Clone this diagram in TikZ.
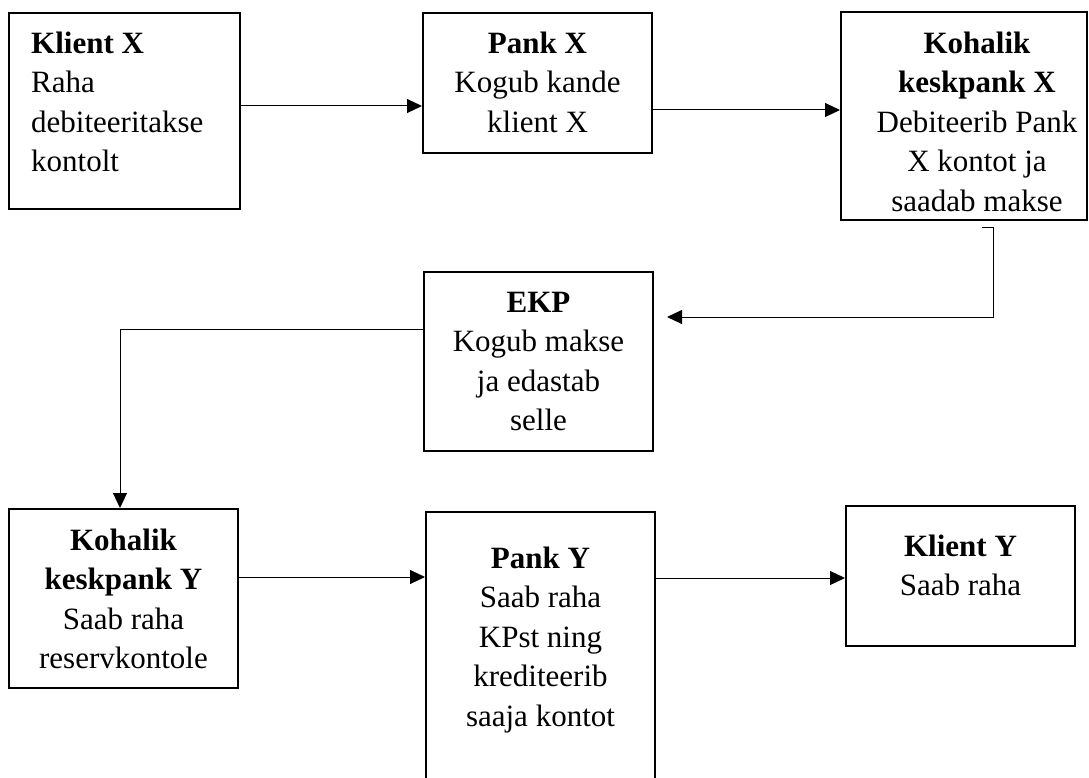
\documentclass[tikz,border=0pt]{standalone}
\usepackage{fontspec}
\setmainfont{Liberation Serif}
\usetikzlibrary{arrows.meta}
\begin{document}
\begin{tikzpicture}[x=1pt,y=-1pt,
  box/.style={draw, line width=2pt, inner sep=0pt},
  txt/.style={inner sep=0pt, font=\fontsize{31}{39.5}\selectfont, align=center, anchor=north},
  conn/.style={line width=1pt},
  arr/.style={conn, -{Triangle[length=15pt,width=14pt]}}]
\useasboundingbox (0,0) rectangle (1089,778);
% boxes
\node[box, minimum width=231, minimum height=196] (b1) at (124.5,111) {};
\node[box, minimum width=229, minimum height=140] (b2) at (537.5,83) {};
\node[box, minimum width=246, minimum height=208] (b3) at (964,116) {};
\node[box, minimum width=229, minimum height=179] (ekp) at (538.5,361.5) {};
\node[box, minimum width=229, minimum height=179] (b5) at (123.5,598.5) {};
\node[box, minimum width=229, minimum height=270] (b6) at (540.5,647) {};
\node[box, minimum width=229, minimum height=140] (b7) at (960.5,576) {};
% texts
\node[txt, anchor=north west, align=left] (t1) at (31,25.35) {\strut\textbf{Klient X}\\Raha\\debiteeritakse\\kontolt};
\node[txt] (t2) at (537.5,25.35) {\strut\textbf{Pank X}\\Kogub kande\\klient X};
\node[txt] (t3) at (977,25.35) {\strut\textbf{Kohalik}\\\textbf{keskpank X}\\Debiteerib Pank\\X kontot ja\\saadab makse};
\node[txt] (tekp) at (538.5,284.35) {\strut\textbf{EKP}\\Kogub makse\\ja edastab\\selle};
\node[txt] (t5) at (123.5,522.35) {\strut\textbf{Kohalik}\\\textbf{keskpank Y}\\Saab raha\\reservkontole};
\node[txt] (t6) at (540.5,540.35) {\strut\textbf{Pank Y}\\Saab raha\\KPst ning\\krediteerib\\saaja kontot};
\node[txt] (t7) at (960.5,528.35) {\strut\textbf{Klient Y}\\Saab raha};
% connectors
\draw[arr] ([yshift=5pt]b1.east) -- ([yshift=5pt]b1.east -| b2.west);
\draw[arr] ([yshift=-27pt]b2.east) -- ([yshift=-27pt]b2.east -| b3.west);
\coordinate (s3) at ([xshift=18pt,yshift=-6pt]b3.south);
\coordinate (e3) at ([xshift=13pt,yshift=44.5pt]ekp.east);
\draw[arr] (s3) -- ++(11,0) |- (e3);
\draw[arr] ([yshift=32.5pt]ekp.west) -| ([xshift=-3.5pt]b5.north);
\draw[arr] ([yshift=21.5pt]b5.east) -- ([yshift=21.5pt]b5.east -| b6.west);
\draw[arr] ([yshift=-2pt]b7.west -| b6.east) -- ([yshift=-2pt]b7.west);
\end{tikzpicture}
\end{document}
